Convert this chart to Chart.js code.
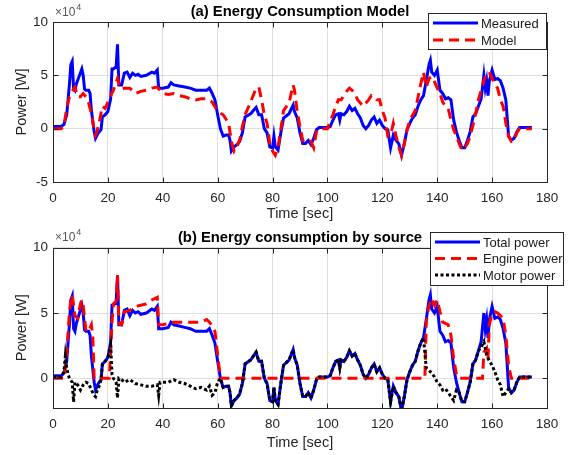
<!DOCTYPE html>
<html>
<head>
<meta charset="utf-8">
<script src="https://cdn.jsdelivr.net/npm/chart.js@4"></script>
<style>
  html, body { margin: 0; padding: 0; background: #fff; }
  #wrap { position: relative; width: 572px; height: 455px; }
  canvas { position: absolute; left: 0; }
</style>
</head>
<body>
<div id="wrap">
  <canvas id="chartA" width="572" height="225" style="top:0"></canvas>
  <canvas id="chartB" width="572" height="230" style="top:225px"></canvas>
</div>
<script>
// power values are in units of 1e4 W (axis shows x10^4)
const timeTicks = [0, 20, 40, 60, 80, 100, 120, 140, 160, 180];
const powerTicksA = [-5, 0, 5, 10];
const powerTicksB = [0, 5, 10];

const measuredTime = [
  0, 3, 4, 5, 6, 6.5, 7, 7.5, 8, 8.5,
  9.5, 10.5, 11, 11.5, 12, 13, 13.5, 14, 15, 15.5,
  16.5, 17.5, 18, 19, 20, 21, 21.5, 22, 23, 23.5,
  24, 25, 26, 27, 28, 29, 30, 31, 32, 34,
  36, 37, 38, 38.5, 40, 42, 43, 44, 46, 48,
  50, 52, 54, 56, 57, 58, 59, 60, 61, 62,
  63, 64, 64.5, 65, 66, 67, 68, 69, 70, 72,
  74, 75, 76, 77, 78, 79, 80, 80.5, 81, 82,
  83, 84, 86, 87.5, 88, 89, 90, 91, 92, 93,
  94, 95, 96, 97, 100, 101, 102, 103, 104, 104.5,
  105, 106, 107, 108, 109, 110, 111, 112, 113, 114,
  115, 116, 117, 118, 119, 120, 121, 122, 123, 124,
  125, 126, 127, 128, 129, 130, 131, 132, 133, 134,
  135, 136, 137, 137.5, 138, 139, 140, 141, 142, 143,
  144, 145, 146, 147, 148, 149, 150, 151, 152, 153,
  154, 155, 156, 157, 157.5, 158, 158.5, 159, 160, 161,
  162, 163, 164, 165, 166, 167, 168, 169, 170, 174.5
];
const measuredPower = [
  0.2, 0.2, 0.4, 1.3, 4.2, 6.0, 6.3, 3.8, 3.6, 4.2,
  4.9, 5.6, 5.0, 3.7, 3.6, 3.6, 3.3, 1.7, -0.3, -0.9,
  -0.4, -0.1, 1.1, 1.3, 1.6, 2.8, 5.6, 5.6, 5.8, 7.9,
  4.1, 4.1, 5.2, 5.3, 4.8, 5.2, 5.0, 5.1, 4.9, 5.0,
  5.3, 5.2, 5.5, 3.8, 3.8, 3.9, 4.3, 4.1, 4.0, 3.9,
  3.8, 3.6, 3.6, 3.6, 3.8, 3.3, 2.7, 1.3, 0.0, -0.7,
  -0.6, -0.6, -1.1, -2.1, -1.7, -1.5, -1.2, -0.4, 1.1, 1.4,
  2.0, 1.3, 1.3, 0.0, -0.4, -1.7, -1.8, -0.7, -1.7, -2.0,
  -0.4, 1.0, 1.4, 2.2, 1.6, 1.0, -0.4, -1.4, -1.4, -1.1,
  -1.5, -0.9, -0.1, 0.1, 0.1, 0.2, 0.8, 1.3, 1.4, 0.8,
  1.4, 1.3, 1.6, 2.1, 1.7, 1.9, 1.4, 1.0, 0.3, 0.0,
  0.3, 0.8, 1.1, 0.5, 0.8, 0.3, 0.0, -0.1, -1.8, -0.6,
  -1.1, -1.4, -2.5, -1.4, -0.1, 0.5, 1.0, 1.3, 2.1, 2.7,
  3.1, 4.5, 6.0, 6.4, 5.3, 5.0, 5.5, 3.6, 3.3, 2.8,
  2.9, 2.7, 0.8, -0.3, -1.1, -1.8, -1.8, -1.1, -0.3, 1.1,
  1.4, 2.1, 2.8, 5.0, 3.8, 4.5, 3.1, 4.5, 5.5, 4.6,
  4.7, 4.5, 3.8, 2.7, -0.7, -1.1, -0.9, -0.3, 0.1, 0.1
];

const modelTime = [
  0, 3, 4, 5, 6, 7, 8, 9, 10, 11,
  12, 13, 14, 15, 15.5, 16, 17, 18, 19, 20,
  22, 23.5, 24, 25, 26, 28, 30, 32, 34, 36,
  38, 40, 42, 44, 46, 48, 50, 52, 54, 56,
  58, 60, 62, 64, 65, 66, 67, 68, 69, 70,
  72, 74, 75, 76, 77, 78, 79, 80, 81, 82,
  83, 84, 86, 87.5, 88, 89, 90, 91, 92, 93,
  94, 95, 96, 97, 100, 101, 102, 103, 104, 105,
  106, 107, 108, 109, 110, 111, 112, 113, 114, 115,
  116, 117, 118, 119, 120, 121, 122, 123, 124, 125,
  126, 127, 128, 129, 130, 132, 134, 135, 136, 137,
  138, 139, 140, 141, 142, 143, 144, 145, 146, 147,
  148, 149, 150, 151, 152, 153, 154, 155, 156, 157,
  158, 159, 160, 161, 162, 163, 164, 165, 166, 167,
  168, 169, 170, 174.5
];
const modelPower = [
  0, 0, 0.3, 1.9, 3.0, 3.5, 3.9, 3.0, 3.0, 3.3,
  3.0, 2.4, 1.4, -0.1, -0.6, -0.3, 0.8, 2.1, 1.9, 2.5,
  3.6, 4.7, 4.2, 3.7, 3.8, 3.8, 3.3, 3.5, 3.6, 3.8,
  3.9, 3.3, 3.2, 3.3, 3.1, 3.0, 2.8, 2.7, 2.8, 2.8,
  2.5, 1.6, 1.3, 0.5, -1.2, -2.1, -1.7, -1.1, 0.2, 1.3,
  2.5, 3.8, 3.9, 2.7, 1.3, 0.5, -1.4, -2.1, -2.5, -1.7,
  -0.1, 1.7, 2.4, 4.1, 3.6, 1.6, 0.2, -1.1, -1.0, -1.0,
  -1.2, -1.8, -0.3, 0, 0, 0.7, 1.3, 2.1, 2.7, 2.7,
  3.1, 3.5, 3.8, 3.6, 3.3, 2.7, 2.4, 2.1, 2.4, 2.7,
  3.1, 3.0, 2.7, 2.7, 1.7, 1.0, -0.7, -0.6, 0.5, -0.7,
  -1.7, -2.5, -1.4, -0.1, 0.8, 1.7, 4.2, 5.3, 3.9, 4.7,
  4.9, 4.4, 3.8, 3.3, 2.5, 2.1, 1.9, 0.8, -0.1, -0.7,
  -1.4, -2.0, -1.8, -1.4, -0.7, 0.3, 1.4, 2.7, 3.6, 4.5,
  5.2, 5.3, 4.7, 4.2, 3.8, 2.7, 2.1, 0.5, -0.7, -1.2,
  -1.1, -0.4, 0, 0
];

const engineTime = [
  0, 4, 5, 6, 6.5, 7, 8, 9, 10, 10.5,
  11, 12, 13, 14, 14.5, 15, 20.5, 21, 21.5, 22,
  23, 23.5, 24, 25, 26, 28, 30, 32, 34, 36,
  38, 38.5, 40, 42, 44, 46, 48, 50, 52, 54,
  56, 57, 58, 59, 60, 61, 135.5, 136, 137, 138,
  139, 140, 141, 142, 143, 144, 145, 146, 147, 148,
  156.5, 157, 158, 158.5, 159, 160, 161, 162, 163, 164,
  165, 166, 167, 174.5
];
const enginePower = [
  0, 0, 2.0, 5.1, 6.0, 6.4, 4.8, 4.6, 5.7, 6.0,
  5.6, 3.6, 3.6, 4.1, 3.3, 0, 0, 2.0, 4.3, 5.7,
  5.9, 7.9, 4.2, 4.1, 5.1, 5.2, 5.5, 5.6, 5.7, 6.0,
  6.2, 4.1, 4.1, 4.2, 4.3, 4.3, 4.3, 4.3, 4.3, 4.3,
  4.5, 4.3, 4.0, 3.6, 1.8, 0, 0, 4.3, 5.6, 6.1,
  5.6, 6.0, 5.1, 4.3, 4.2, 4.1, 3.3, 1.5, 0.3, 0,
  0, 2.0, 2.3, 1.5, 4.1, 5.0, 5.1, 5.0, 4.8, 4.6,
  3.3, 1.0, 0, 0
];

const motorTime = [
  0, 3, 4, 4.5, 5, 5.5, 6, 7, 7.5, 8,
  9, 10, 11, 12, 13, 14, 15, 15.5, 16, 17,
  17.5, 18, 19, 20, 21, 21.5, 22, 23, 23.5, 24,
  25, 26, 28, 30, 32, 34, 36, 38, 38.5, 39,
  40, 42, 44, 46, 48, 50, 52, 54, 56, 57,
  58, 59, 60, 61, 62, 63, 64, 64.5, 65, 66,
  67, 68, 69, 70, 72, 74, 75, 76, 77, 78,
  79, 80, 80.5, 81, 82, 83, 84, 86, 87.5, 88,
  89, 90, 91, 92, 93, 94, 95, 96, 97, 100,
  101, 102, 103, 104, 104.5, 105, 106, 107, 108, 109,
  110, 111, 112, 113, 114, 115, 116, 117, 118, 119,
  120, 121, 122, 123, 124, 125, 126, 127, 128, 129,
  130, 131, 132, 133, 134, 135, 136, 137, 138, 139,
  140, 141, 142, 143, 144, 145, 146, 147, 148, 149,
  150, 151, 152, 153, 154, 155, 156, 157, 158, 159,
  160, 161, 162, 163, 164, 165, 166, 167, 168, 169,
  170, 174.5
];
const motorPower = [
  0.1, 0.1, 0.5, 1.7, 0.8, 0.3, 0, -0.3, -1.8, -0.3,
  -0.5, -0.9, -0.5, -0.3, -0.4, -0.9, -1.3, -1.4, -1.0, -0.5,
  -0.1, 1.1, 1.3, 1.6, 2.5, 0.3, 0, -0.3, -1.5, 0,
  -0.1, -0.3, -0.1, -0.4, -0.5, -0.6, -0.6, -0.5, -1.3, -0.3,
  -0.3, -0.3, -0.1, -0.3, -0.4, -0.6, -0.8, -0.7, -0.9, -0.6,
  -1.3, -1.1, -0.3, 0.0, -0.7, -0.6, -0.6, -1.1, -2.1, -1.7,
  -1.5, -1.2, -0.4, 1.1, 1.4, 2.0, 1.3, 1.3, 0.0, -0.4,
  -1.7, -1.8, -0.7, -1.7, -2.0, -0.4, 1.0, 1.4, 2.2, 1.6,
  1.0, -0.4, -1.4, -1.4, -1.1, -1.5, -0.9, -0.1, 0.1, 0.1,
  0.2, 0.8, 1.3, 1.4, 0.8, 1.4, 1.3, 1.6, 2.1, 1.7,
  1.9, 1.4, 1.0, 0.3, 0.0, 0.3, 0.8, 1.1, 0.5, 0.8,
  0.3, 0.0, -0.1, -1.8, -0.6, -1.1, -1.4, -2.5, -1.4, -0.1,
  0.5, 1.0, 1.3, 2.1, 2.7, 3.1, 0.8, 0.6, 0.4, 0.1,
  -0.3, -0.5, -0.9, -0.8, -1.1, -1.4, -1.7, -0.9, -1.1, -1.8,
  -1.8, -1.1, -0.3, 1.1, 1.4, 2.1, 2.4, 2.8, 1.8, 1.3,
  1.0, 0.5, -0.1, -0.5, -1.4, -1.1, -0.8, -1.1, -0.9, -0.3,
  0.1, 0.1
];

const FONT = '"Liberation Sans", Arial, Helvetica, sans-serif';
const AXIS_COLOR = '#262626';
const GRID_COLOR = 'rgba(38,38,38,0.15)';

const BLUE = { color: '#0000ff', dash: [] };
const RED = { color: '#ff0000', dash: [10, 6] };
const BLACK = { color: '#000000', dash: [3, 2.5] };

function points(t, p) {
  return t.map((x, i) => ({ x: x, y: p[i] }));
}

function line(label, t, p, style, order) {
  return {
    label: label,
    data: points(t, p),
    borderColor: style.color,
    borderWidth: 3,
    borderDash: style.dash,
    pointRadius: 0,
    fill: false,
    tension: 0,
    order: order
  };
}

// titles, axis labels, box, inward ticks, exponent and legend
const decor = {
  id: 'decor',
  afterDraw(chart, args, o) {
    const ctx = chart.ctx, a = chart.chartArea;
    const xs = chart.scales.x, ys = chart.scales.y;
    ctx.save();

    ctx.strokeStyle = AXIS_COLOR;
    ctx.lineWidth = 1;
    ctx.setLineDash([]);
    const l = Math.round(a.left) + 0.5, r = Math.round(a.right) + 0.5;
    const tp = Math.round(a.top) + 0.5, b = Math.round(a.bottom) + 0.5;
    ctx.strokeRect(l, tp, r - l, b - tp);
    ctx.beginPath();
    xs.ticks.forEach(t => {
      const px = Math.round(xs.getPixelForValue(t.value)) + 0.5;
      ctx.moveTo(px, b); ctx.lineTo(px, b - 5);
      ctx.moveTo(px, tp); ctx.lineTo(px, tp + 5);
    });
    ys.ticks.forEach(t => {
      const py = Math.round(ys.getPixelForValue(t.value)) + 0.5;
      ctx.moveTo(l, py); ctx.lineTo(l + 5, py);
      ctx.moveTo(r, py); ctx.lineTo(r - 5, py);
    });
    ctx.stroke();

    const cx = (a.left + a.right) / 2;
    ctx.textAlign = 'center';
    ctx.textBaseline = 'middle';
    ctx.fillStyle = '#000';
    ctx.font = 'bold 14.8px ' + FONT;
    ctx.fillText(o.title, cx, o.titleY);

    ctx.fillStyle = AXIS_COLOR;
    ctx.font = '14.5px ' + FONT;
    ctx.fillText(o.xLabel, cx, o.xLabelY);
    ctx.save();
    ctx.translate(22, (a.top + a.bottom) / 2);
    ctx.rotate(-Math.PI / 2);
    ctx.fillText(o.yLabel, 0, 0);
    ctx.restore();

    ctx.textAlign = 'left';
    ctx.fillStyle = '#555';
    ctx.font = '12px ' + FONT;
    ctx.fillText('\u00d710', 55, o.expY);
    const w = ctx.measureText('\u00d710').width;
    ctx.font = '9px ' + FONT;
    ctx.fillText('4', 55 + w + 1, o.expY - 5);

    const lg = o.legend;
    ctx.fillStyle = '#fff';
    ctx.fillRect(lg.x, lg.y, lg.w, lg.h);
    ctx.strokeStyle = AXIS_COLOR;
    ctx.strokeRect(lg.x + 0.5, lg.y + 0.5, lg.w, lg.h);
    ctx.font = '13px ' + FONT;
    ctx.textBaseline = 'middle';
    lg.items.forEach((it, i) => {
      const y = lg.y + lg.first + i * lg.step;
      ctx.beginPath();
      ctx.strokeStyle = it.style.color;
      ctx.lineWidth = 3;
      ctx.setLineDash(it.style.dash);
      ctx.moveTo(lg.x + 5, y);
      ctx.lineTo(lg.x + 50, y);
      ctx.stroke();
      ctx.setLineDash([]);
      ctx.fillStyle = '#1a1a1a';
      ctx.fillText(it.label, lg.x + 53, y + 1);
    });
    ctx.restore();
  }
};

function makeChart(id, datasets, yMin, yTicks, padTop, xHeight, decorOpts) {
  const tickFont = { family: FONT, size: 13.5 };
  return new Chart(document.getElementById(id), {
    type: 'line',
    data: { datasets: datasets },
    options: {
      responsive: false,
      animation: false,
      layout: { padding: { top: padTop, right: 25, left: 0, bottom: 0 } },
      plugins: {
        legend: { display: false },
        tooltip: { enabled: false },
        decor: decorOpts
      },
      scales: {
        x: {
          type: 'linear',
          min: 0,
          max: 180,
          afterBuildTicks: s => { s.ticks = timeTicks.map(v => ({ value: v })); },
          afterFit: s => { s.height = xHeight; },
          grid: { color: GRID_COLOR, drawTicks: false },
          border: { display: false },
          ticks: { padding: 8, color: AXIS_COLOR, font: tickFont, maxRotation: 0 }
        },
        y: {
          type: 'linear',
          min: yMin,
          max: 10,
          afterBuildTicks: s => { s.ticks = yTicks.map(v => ({ value: v })); },
          afterFit: s => { s.width = 53; },
          grid: { color: GRID_COLOR, drawTicks: false },
          border: { display: false },
          ticks: { padding: 5, color: AXIS_COLOR, font: tickFont }
        }
      }
    },
    plugins: [decor]
  });
}

makeChart('chartA', [
  line('Measured', measuredTime, measuredPower, BLUE, 1),
  line('Model', modelTime, modelPower, RED, 0)
], -5, powerTicksA, 22, 43, {
  title: '(a) Energy Consumption Model',
  titleY: 12,
  xLabel: 'Time [sec]',
  xLabelY: 214,
  yLabel: 'Power [W]',
  expY: 13,
  legend: {
    x: 428, y: 13, w: 118, h: 36, first: 10, step: 17,
    items: [
      { label: 'Measured', style: BLUE },
      { label: 'Model', style: RED }
    ]
  }
});

makeChart('chartB', [
  line('Total power', measuredTime, measuredPower, BLUE, 2),
  line('Engine power', engineTime, enginePower, RED, 1),
  line('Motor power', motorTime, motorPower, BLACK, 0)
], -2.25, powerTicksB, 22.7, 47.3, {
  title: '(b) Energy consumption by source',
  titleY: 12.5,
  xLabel: 'Time [sec]',
  xLabelY: 218,
  yLabel: 'Power [W]',
  expY: 13,
  legend: {
    x: 430, y: 7, w: 133, h: 53, first: 10, step: 16.5,
    items: [
      { label: 'Total power', style: BLUE },
      { label: 'Engine power', style: RED },
      { label: 'Motor power', style: BLACK }
    ]
  }
});
</script>
</body>
</html>
